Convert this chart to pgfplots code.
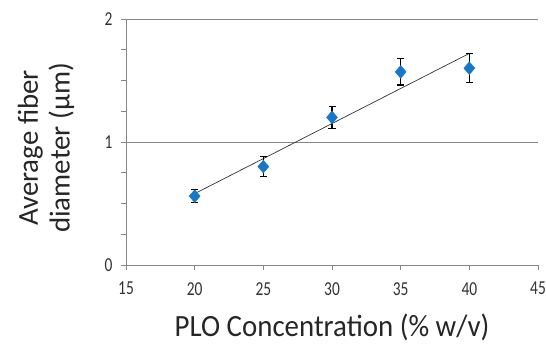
\documentclass[border=0pt]{standalone}
\usepackage{pgfplots}
\pgfplotsset{compat=1.18}
\usepackage{fontspec}
\setmainfont{Carlito}
\definecolor{mblue}{RGB}{22,120,200}
\definecolor{axgray}{RGB}{134,134,134}
\begin{document}
\begin{tikzpicture}
\path[use as bounding box] (-126bp,-91bp) rectangle (420bp,265bp);
\begin{axis}[
  at={(0,0)}, anchor=south west,
  scale only axis, width=412bp, height=246bp,
  xmin=15, xmax=45, ymin=0, ymax=2,
  xtick={15,20,...,45}, ytick={0,1,2},
  minor ytick={0.25,0.5,0.75,1.25,1.5,1.75},
  axis lines=left, axis line style={axgray, -},
  ymajorgrids, grid style={axgray, line width=0.6pt},
  tick style={axgray, line width=0.6pt},
  major tick length=5bp, minor tick length=5bp,
  tick align=outside,
  /pgf/number format/assume math mode=true,
  tick label style={font=\fontsize{15.5}{18}\selectfont, text=black!80, yscale=1.28},
  yticklabel style={xshift=-5bp},
  xticklabel style={yshift=-6bp},
  clip=false,
]
\addplot[black!80, line width=0.7pt] coordinates {(20,0.58) (40,1.72)};
\addplot[only marks, mark=diamond*, mark size=6.4bp,
  mark options={fill=mblue, draw=mblue, xscale=1.15},
  error bars/.cd, y dir=both, y explicit,
  error bar style={black, line width=1.4pt},
  error mark options={rotate=90, mark size=3.5bp, line width=1.4pt, black}]
  coordinates {
  (20,0.56) +- (0,0.052)
  (25,0.80) +- (0,0.08)
  (30,1.20) +- (0,0.09)
  (35,1.57) +- (0,0.108)
  (40,1.60) +- (0,0.118)
  };
\node[rotate=90, align=center, font=\fontsize{29}{32}\selectfont, text=black!85] at ([xshift=-80bp, yshift=-6bp]rel axis cs:0,0.5) {Average fiber\\diameter (µm)};
\node[font=\fontsize{29}{32}\selectfont, text=black!85, yscale=1.07] at ([yshift=-62bp]rel axis cs:0.5,0) {PLO Concentration (\% w/v)};
\end{axis}
\end{tikzpicture}
\end{document}
